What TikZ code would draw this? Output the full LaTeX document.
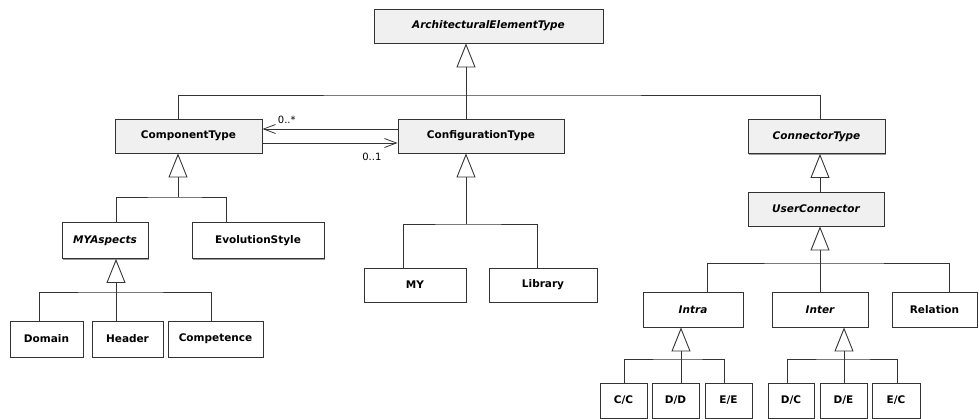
\documentclass[tikz,border=0pt]{standalone}
\usepackage{fontspec}
\setsansfont{DejaVu Sans}
\usepackage{tikz}
\usetikzlibrary{arrows.meta,positioning,shadows}
\definecolor{ClassGray}{HTML}{F0F0F0}
\definecolor{EdgeGray}{HTML}{333333}
\definecolor{ShadowGray}{HTML}{9A9A9A}
\tikzset{
  % Base class box
  CB/.style={rectangle,draw=EdgeGray,line width=0.9pt,
             minimum height=34pt,inner sep=0pt,text centered,
             font=\sffamily\bfseries\fontsize{10.5}{12}\selectfont,
             drop shadow={shadow xshift=1pt,shadow yshift=-1pt,
                          fill=ShadowGray,opacity=1}},
  % Fill variants
  cG/.style={CB,fill=ClassGray},
  cW/.style={CB,fill=white},
  % Abstract class name
  ab/.style={font=\sffamily\bfseries\itshape\fontsize{10.5}{12}\selectfont},
  % Connectors
  lnk/.style={draw=EdgeGray,line width=0.9pt},
  gen/.style={lnk,-{Triangle[open,length=24pt,width=19pt]}},
  asc/.style={lnk,line width=0.8pt,-{Straight Barb[length=12pt,width=9pt]}},
  % Multiplicity label
  mult/.style={font=\sffamily\fontsize{10}{12}\selectfont,inner sep=0pt}
}
\begin{document}
\begin{tikzpicture}[x=1pt,y=-1pt]
  \useasboundingbox (0,0) rectangle (979,418);

  % --- top level ---
  \node[cG,ab,minimum width=229pt] (aet)  at (488.5,26)  {ArchitecturalElementType};
  \node[cG,minimum width=147pt]    (comp) at (188.5,136) {ComponentType};
  \node[cG,minimum width=166pt]    (cfg)  at (481,136)   {ConfigurationType};
  \node[cG,ab,minimum width=137pt] (conn) at (816.5,136.5) {ConnectorType};
  \node[cG,ab,minimum width=136pt] (ucon) at (816,209)   {UserConnector};

  % --- component branch ---
  \node[cW,ab,minimum width=86pt,minimum height=36pt] (myasp) at (105,240.5) {MYAspects};
  \node[cW,minimum width=132pt,minimum height=36pt]   (evo)   at (258,240.5) {EvolutionStyle};
  \node[cW,minimum width=73pt,minimum height=36pt]    (dom)   at (46.5,339)  {Domain};
  \node[cW,minimum width=71pt,minimum height=36pt]    (hdr)   at (127.5,339) {Header};
  \node[cW,minimum width=95pt,minimum height=36pt]    (cmpt)  at (215.5,339) {Competence};

  % --- configuration branch ---
  \node[cW,minimum width=102pt] (my)  at (415,285) {MY};
  \node[cW,minimum width=108pt] (lib) at (543,285) {Library};

  % --- connector branch ---
  \node[cW,ab,minimum width=100pt,minimum height=35pt] (intra) at (693,309.5)   {Intra};
  \node[cW,ab,minimum width=96pt,minimum height=35pt]  (inter) at (820,309.5)   {Inter};
  \node[cW,minimum width=85pt,minimum height=35pt]     (rel)   at (934.5,309.5) {Relation};
  \node[cW,minimum width=47pt,minimum height=35pt] (cc) at (623.5,400.5) {C/C};
  \node[cW,minimum width=47pt,minimum height=35pt] (dd) at (675.5,400.5) {D/D};
  \node[cW,minimum width=47pt,minimum height=35pt] (ee) at (728.5,400.5) {E/E};
  \node[cW,minimum width=46pt,minimum height=35pt] (dc) at (791,400.5)   {D/C};
  \node[cW,minimum width=47pt,minimum height=35pt] (de) at (843.5,400.5) {D/E};
  \node[cW,minimum width=48pt,minimum height=35pt] (ec) at (896,400.5)   {E/C};

  % junctions of the inheritance trees
  \coordinate (jA) at (466,95);
  \coordinate (jC) at (178,197);
  \coordinate (jM) at (116,292);
  \coordinate (jF) at (466,224);
  \coordinate (jN) at (820,263);
  \coordinate (jI) at (681,359);
  \coordinate (jE) at (844,359);

  % ArchitecturalElementType
  \draw[gen] (jA) -- (jA |- aet.south);
  \draw[lnk] ([xshift=-10.5pt]comp.north) |- (jA) -| ([xshift=3.5pt]conn.north);
  \draw[lnk] (cfg.north -| jA) -- (jA);
  % ComponentType
  \draw[gen] (jC) -- (jC |- comp.south);
  \draw[lnk] ([xshift=11pt]myasp.north) |- (jC) -| ([xshift=-32pt]evo.north);
  % MYAspects
  \draw[gen] (jM) -- (jM |- myasp.south);
  \draw[lnk] ([xshift=-7.5pt]dom.north) |- (jM) -| ([xshift=-4.5pt]cmpt.north);
  \draw[lnk] (hdr.north -| jM) -- (jM);
  % ConfigurationType
  \draw[gen] (jF) -- (jF |- cfg.south);
  \draw[lnk] ([xshift=-12pt]my.north) |- (jF) -| ([xshift=-6pt]lib.north);
  % ConnectorType / UserConnector
  \draw[gen] ([xshift=4pt]ucon.north) -- ([xshift=3.5pt]conn.south);
  \draw[gen] (jN) -- (jN |- ucon.south);
  \draw[lnk] ([xshift=14pt]intra.north) |- (jN) -| ([xshift=14.5pt]rel.north);
  \draw[lnk] (inter.north) -- (jN);
  % Intra / Inter
  \draw[gen] (jI) -- (jI |- intra.south);
  \draw[lnk] ([xshift=0.5pt]cc.north) |- (jI) -| ([xshift=-4.5pt]ee.north);
  \draw[lnk] (dd.north -| jI) -- (jI);
  \draw[gen] (jE) -- (jE |- inter.south);
  \draw[lnk] ([xshift=-4pt]dc.north) |- (jE) -| ([xshift=1pt]ec.north);
  \draw[lnk] (de.north -| jE) -- (jE);

  % associations
  \draw[asc] ([yshift=7pt]cfg.west) -- node[pos=0.82,above=5pt,mult]{0..*} ([yshift=7pt]comp.east);
  \draw[asc] ([yshift=-7pt]comp.east) -- node[pos=0.81,below=10pt,mult]{0..1} ([yshift=-7pt]cfg.west);
\end{tikzpicture}
\end{document}
